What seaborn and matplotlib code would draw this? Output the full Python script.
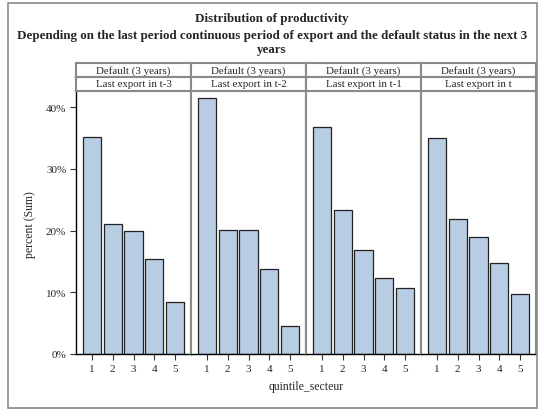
import pandas as pd
import matplotlib
matplotlib.use("Agg")
import matplotlib.pyplot as plt
import seaborn as sns
from matplotlib.patches import Rectangle
from matplotlib.ticker import FuncFormatter

# Data (percent, sum)
quintiles = [1, 2, 3, 4, 5]
panel_labels = ["Last export in t-3", "Last export in t-2",
                "Last export in t-1", "Last export in t"]
group_label = "Default (3 years)"
pct_t3 = [35.2, 21.0, 20.0, 15.4, 8.4]
pct_t2 = [41.4, 20.1, 20.1, 13.7, 4.6]
pct_t1 = [36.8, 23.3, 16.9, 12.3, 10.7]
pct_t0 = [35.0, 21.8, 18.9, 14.7, 9.7]
y_ticks = [0, 10, 20, 30, 40]

series = [pct_t3, pct_t2, pct_t1, pct_t0]
df = pd.DataFrame({
    "quintile_secteur": quintiles * 4,
    "percent": sum(series, []),
    "panel": [p for p in panel_labels for _ in quintiles],
})

sns.set_style("white")
plt.rcParams["font.family"] = ["Liberation Serif", "DejaVu Serif"]

W, H = 539, 410
fig = plt.figure(figsize=(W / 100, H / 100), dpi=100)

border = "#8a8a8a"
bar_color = "#b8cce4"

# layout in pixels
x0, x1 = 76, 536
plot_top, plot_bot = 92, 355
row1_top, row2_top = 64, 78
pw = (x1 - x0) / 4

def fx(px):
    return px / W

def fy(py):
    return 1 - py / H

axes = []
for i, label in enumerate(panel_labels):
    left = x0 + i * pw
    ax = fig.add_axes([fx(left), fy(plot_bot), fx(pw), (plot_bot - plot_top) / H])
    sns.barplot(data=df[df["panel"] == label], x="quintile_secteur", y="percent",
                color=bar_color, edgecolor="#222222", linewidth=0.9,
                width=0.87, saturation=1, ax=ax, errorbar=None)
    ax.set_xlim(-0.76, 4.76)
    ax.set_ylim(0, 42.6)
    ax.set_xlabel("")
    ax.set_ylabel("")
    for s in ["top", "right", "left"]:
        ax.spines[s].set_color(border)
        ax.spines[s].set_linewidth(1.5)
    ax.spines["bottom"].set_color("black")
    ax.spines["bottom"].set_linewidth(1.0)
    ax.tick_params(axis="x", bottom=True, length=4, width=0.8, color="#333333",
                   labelsize=8, pad=3)
    ax.set_yticks(y_ticks)
    if i == 0:
        ax.yaxis.set_major_formatter(FuncFormatter(lambda v, p: f"{v:.0f}%"))
        ax.tick_params(axis="y", left=True, length=4, width=0.8, color="#333333",
                       labelsize=8, pad=3)
        ax.spines["left"].set_color("black")
        ax.spines["left"].set_linewidth(1.0)
    else:
        ax.tick_params(axis="y", left=False, labelleft=False)
    axes.append(ax)

    # header rows
    for top, txt in [(row1_top, group_label), (row2_top, label)]:
        hax = fig.add_axes([fx(left), fy(top + 14), fx(pw), 14 / H])
        hax.set_xticks([])
        hax.set_yticks([])
        for s in hax.spines.values():
            s.set_color(border)
            s.set_linewidth(1.5)
        hax.text(0.5, 0.5, txt, ha="center", va="center", fontsize=7.8,
                 transform=hax.transAxes)

fig.text(fx(30), fy(225), "percent (Sum)", rotation=90, ha="center", va="center",
         fontsize=8.5)
fig.text(fx(306), fy(387), "quintile_secteur", ha="center", va="center", fontsize=8.5)

fig.text(fx(272), fy(19), "Distribution of productivity", ha="center", va="center",
         fontsize=9.4, fontweight="bold")
fig.text(fx(272), fy(43),
         "Depending on the last period continuous period of export and the default status in the next 3\nyears",
         ha="center", va="center", fontsize=9.4, fontweight="bold", linespacing=1.25)

# outer frame
fig.patches.append(Rectangle((fx(8), fy(409)), fx(529), (409 - 4) / H,
                             transform=fig.transFigure, fill=False,
                             edgecolor=border, linewidth=1.2))

fig.savefig("out.png", dpi=100)
